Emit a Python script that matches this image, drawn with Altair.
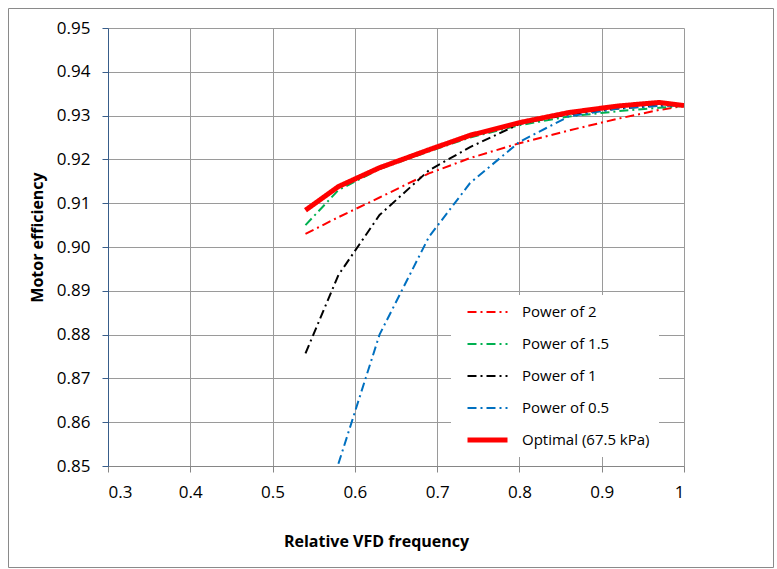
import altair as alt
import pandas as pd

# ---- data ----
freq = [0.54, 0.58, 0.63, 0.69, 0.74, 0.80, 0.86, 0.92, 0.97, 1.00]
freq_half = [0.58, 0.63, 0.69, 0.74, 0.80, 0.86, 0.92, 0.97, 1.00]

power_2 = [0.9030, 0.9068, 0.9113, 0.9168, 0.9203, 0.9237, 0.9266, 0.9293, 0.9313, 0.9322]
power_15 = [0.9050, 0.9130, 0.9178, 0.9218, 0.9250, 0.9278, 0.9298, 0.9310, 0.9318, 0.9322]
power_1 = [0.8757, 0.8936, 0.9073, 0.9175, 0.9228, 0.9281, 0.9303, 0.9316, 0.9323, 0.9324]
power_05 = [0.8505, 0.8800, 0.9023, 0.9146, 0.9240, 0.9298, 0.9316, 0.9322, 0.9324]
optimal = [0.9084, 0.9138, 0.9181, 0.9222, 0.9255, 0.9284, 0.9307, 0.9322, 0.9330, 0.9323]

series_names = ["Power of 2", "Power of 1.5", "Power of 1", "Power of 0.5", "Optimal (67.5 kPa)"]
series_colors = ["#FF0000", "#00B050", "#000000", "#0070C0", "#FF0000"]

x_ticks = [0.3, 0.4, 0.5, 0.6, 0.7, 0.8, 0.9, 1.0]
y_ticks = [0.85, 0.86, 0.87, 0.88, 0.89, 0.90, 0.91, 0.92, 0.93, 0.94, 0.95]

rows = []
for name, xs, ys in [
    ("Power of 2", freq, power_2),
    ("Power of 1.5", freq, power_15),
    ("Power of 1", freq, power_1),
    ("Power of 0.5", freq_half, power_05),
    ("Optimal (67.5 kPa)", freq, optimal),
]:
    for i, (a, b) in enumerate(zip(xs, ys)):
        rows.append({"series": name, "x": a, "y": b, "i": i})
df = pd.DataFrame(rows)

FONT = "Open Sans"
GRID = "#9A9A9A"

dash = [9, 4, 2, 4]

lines = alt.Chart(df).mark_line(clip=True, strokeCap="butt").encode(
    x=alt.X(
        "x:Q",
        scale=alt.Scale(domain=[0.3, 1.0], nice=False, zero=False),
        axis=alt.Axis(
            values=x_ticks, format=".1~f", title="Relative VFD frequency",
            grid=True, gridColor=GRID, gridWidth=1,
            domainColor="#868686", tickColor="#868686", tickSize=6,
            labelFont=FONT, labelFontSize=17, labelColor="#000000", labelPadding=12,
            titleFont=FONT, titleFontSize=16, titleFontWeight="bold", titleColor="#000000",
            titleX=268, titleY=75, titleAlign="center", titleBaseline="middle",
        ),
    ),
    y=alt.Y(
        "y:Q",
        scale=alt.Scale(domain=[0.85, 0.95], nice=False, zero=False),
        axis=alt.Axis(
            values=y_ticks, format=".2f", title="Motor efficiency",
            grid=True, gridColor=GRID, gridWidth=1,
            domainColor="#385D8A", tickColor="#385D8A", tickSize=6,
            labelFont=FONT, labelFontSize=17, labelColor="#000000", labelPadding=12,
            titleFont=FONT, titleFontSize=16, titleFontWeight="bold", titleColor="#000000",
            titleX=-71, titleY=209, titleAngle=270, titleAlign="center", titleBaseline="middle",
        ),
    ),
    color=alt.Color("series:N", sort=series_names,
                    scale=alt.Scale(domain=series_names, range=series_colors), title=None),
    strokeDash=alt.StrokeDash("series:N", sort=series_names,
                              scale=alt.Scale(domain=series_names, range=[dash, dash, dash, dash, [1, 0]]), title=None),
    strokeWidth=alt.StrokeWidth("series:O", sort=series_names,
                                scale=alt.Scale(type="ordinal", domain=series_names, range=[2, 2, 2, 2, 5]), title=None),
    order=alt.Order("i:Q"),
)

frame = alt.Chart(pd.DataFrame({"a": [0]})).mark_rect(
    fill="transparent", stroke="#8A8A8A", strokeWidth=1
).encode(
    x=alt.value(-99.5), x2=alt.value(665.5), y=alt.value(-19.5), y2=alt.value(539.5)
)

chart = alt.layer(frame, lines).properties(
    width=576, height=438,
    padding={"left": 8, "top": 8, "right": 2, "bottom": 1},
).configure_view(
    strokeWidth=0
).configure_legend(
    orient="none", legendX=343, legendY=267, direction="vertical",
    fillColor="white", padding=9, symbolType="stroke", symbolSize=1600,
    symbolOffset=5, clipHeight=16, rowPadding=16,
    labelFont=FONT, labelFontSize=15, labelColor="#000000", labelOffset=12, labelLimit=300,
)

chart.save("out.html", embed_options={"renderer": "svg", "actions": False})
